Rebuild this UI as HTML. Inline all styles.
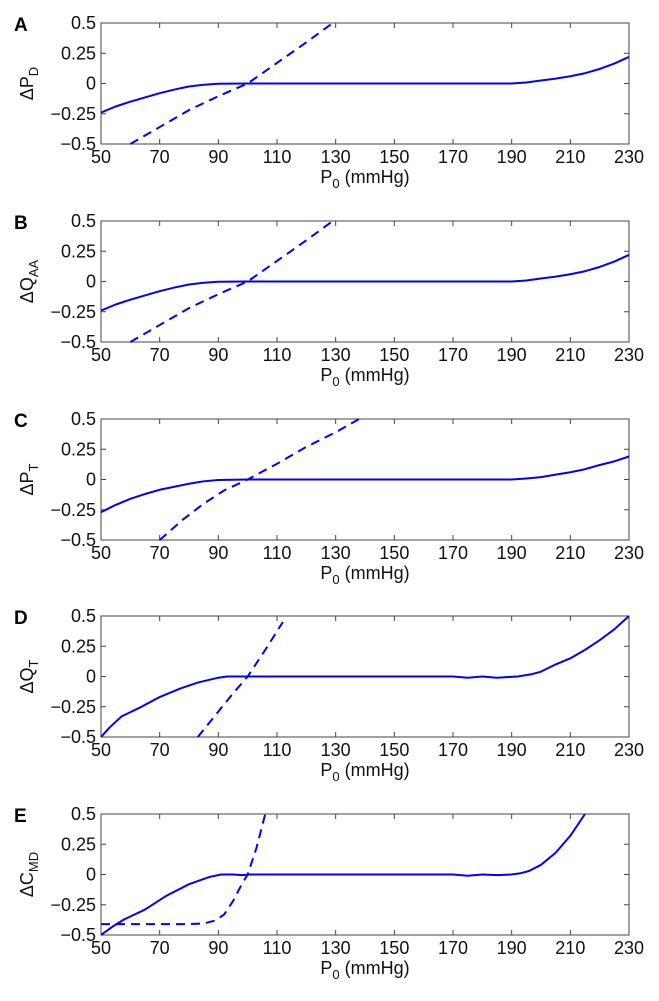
<!DOCTYPE html>
<html><head><meta charset="utf-8"><style>
body{margin:0;background:#fff;}
svg{display:block;font-family:"Liberation Sans",Arial,sans-serif;}
</style></head><body>
<svg id="fig" width="659" height="1001"></svg>
<script>
const xTicks=[50,70,90,110,130,150,170,190,210,230];
const yTicks=[0.5,0.25,0,-0.25,-0.5];
const yTickLabels=["0.5","0.25","0","\u22120.25","\u22120.5"];
const panelLetters=["A","B","C","D","E"];
const panelYLabels=[["\u0394P","D"],["\u0394Q","AA"],["\u0394P","T"],["\u0394Q","T"],["\u0394C","MD"]];
const solidX=[
[50,55,60,65,70,75,80,85,90,100,120,150,170,180,190,195,200,205,210,215,220,225,230],
[50,55,60,65,70,75,80,85,90,100,120,150,170,180,190,195,200,205,210,215,220,225,230],
[50,55,60,65,70,75,80,85,90,100,120,150,170,180,190,195,200,205,210,215,220,225,230],
[50,53,57,63,70,77,83,90,93,120,150,170,175,180,185,192,197,200,205,210,215,220,225,230],
[50,54,58,65,72,80,87,91,95,98,101,130,170,175,180,185,190,193,196,200,205,210,215]];
const solidY=[
[-0.24,-0.19,-0.15,-0.115,-0.08,-0.05,-0.025,-0.01,-0.002,0,0,0,0,0,0,0.008,0.025,0.04,0.06,0.085,0.12,0.165,0.22],
[-0.24,-0.19,-0.15,-0.115,-0.08,-0.05,-0.025,-0.01,-0.002,0,0,0,0,0,0,0.008,0.025,0.04,0.06,0.085,0.12,0.165,0.22],
[-0.27,-0.21,-0.16,-0.12,-0.085,-0.06,-0.035,-0.015,-0.004,0,0,0,0,0,0,0.008,0.02,0.04,0.06,0.085,0.12,0.15,0.19],
[-0.5,-0.42,-0.33,-0.26,-0.17,-0.1,-0.05,-0.01,0,0,0,0,-0.01,0,-0.01,0,0.02,0.04,0.1,0.15,0.22,0.3,0.39,0.5],
[-0.5,-0.43,-0.37,-0.29,-0.18,-0.08,-0.02,0,0,-0.005,0,0,0,-0.01,0,-0.005,0,0.01,0.03,0.08,0.18,0.32,0.5]];
const dashX=[
[60,70,80,90,100,110,120,129],
[60,70,80,90,100,110,120,129],
[70,78,85,92,100,110,120,130,138],
[83,90,95,100,106,112],
[50,60,70,80,85,89,92,95,98,100,103,106]];
const dashY=[
[-0.5,-0.36,-0.22,-0.105,0,0.17,0.34,0.5],
[-0.5,-0.36,-0.22,-0.105,0,0.17,0.34,0.5],
[-0.5,-0.33,-0.2,-0.09,0,0.13,0.27,0.39,0.5],
[-0.5,-0.29,-0.14,0,0.22,0.45],
[-0.41,-0.41,-0.41,-0.41,-0.405,-0.38,-0.33,-0.22,-0.08,0,0.22,0.5]];
const panelTops=[23,221,419,616,814];
const L=101,R=629,H=121;
const NS="http://www.w3.org/2000/svg";
const svg=document.getElementById('fig');
function mk(tag,attrs,parent,text){const e=document.createElementNS(NS,tag);for(const k in attrs)e.setAttribute(k,attrs[k]);if(text!==undefined)e.textContent=text;parent.appendChild(e);return e;}
const sx=v=>L+(v-50)/180*(R-L);
panelTops.forEach((top,p)=>{
  const sy=v=>top+(0.5-v)*H;
  const g=mk('g',{},svg);
  
  
  const fr=mk('rect',{x:L,y:top,width:R-L,height:H,fill:'none',stroke:'#444','stroke-width':1},g);
  
  
  xTicks.forEach(t=>{
    const x=sx(t);
    mk('line',{x1:x,x2:x,y1:top+H,y2:top+H-5,stroke:'#444'},g);
    mk('line',{x1:x,x2:x,y1:top,y2:top+5,stroke:'#444'},g);
    const tl=mk('text',{x:x,y:top+H+19,'text-anchor':'middle','font-size':18,fill:'#111'},g,String(t));
    
    
  });
  yTicks.forEach((t,i)=>{
    const y=sy(t);
    mk('line',{x1:L,x2:L+5,y1:y,y2:y,stroke:'#444'},g);
    mk('line',{x1:R,x2:R-5,y1:y,y2:y,stroke:'#444'},g);
    const tl=mk('text',{x:96,y:y+6,'text-anchor':'end','font-size':18,fill:'#111'},g,yTickLabels[i]);
    
    
  });
  const xt=mk('text',{x:365,y:top+H+39,'text-anchor':'middle','font-size':18,fill:'#111'},g);
  
  
  mk('tspan',{},xt,'P');
  mk('tspan',{dy:5,'font-size':13},xt,'0');
  mk('tspan',{dy:-5},xt,' (mmHg)');
  const yt=mk('text',{transform:`translate(33,${top+H/2}) rotate(-90)`,'text-anchor':'middle','font-size':18,fill:'#111'},g);
  
  
  mk('tspan',{},yt,panelYLabels[p][0]);
  mk('tspan',{dy:5,'font-size':13},yt,panelYLabels[p][1]);
  const lt=mk('text',{x:14,y:top+8,'font-size':19,'font-weight':'bold',fill:'#000'},g,panelLetters[p]);
  
  
  const clipId='c'+p;
  const cp=mk('clipPath',{id:clipId},g);
  mk('rect',{x:L,y:top-1,width:R-L,height:H+2},cp);
  const s=mk('polyline',{points:solidX[p].map((v,i)=>sx(v)+','+sy(solidY[p][i])).join(' '),fill:'none',stroke:'#0000ff','stroke-width':2,'stroke-linejoin':'round','clip-path':`url(#${clipId})`},g);
  
  
  const d=mk('polyline',{points:dashX[p].map((v,i)=>sx(v)+','+sy(dashY[p][i])).join(' '),fill:'none',stroke:'#0000ff','stroke-width':2,'stroke-dasharray':'9,6','clip-path':`url(#${clipId})`},g);
  
  
});
</script>
</body></html>
